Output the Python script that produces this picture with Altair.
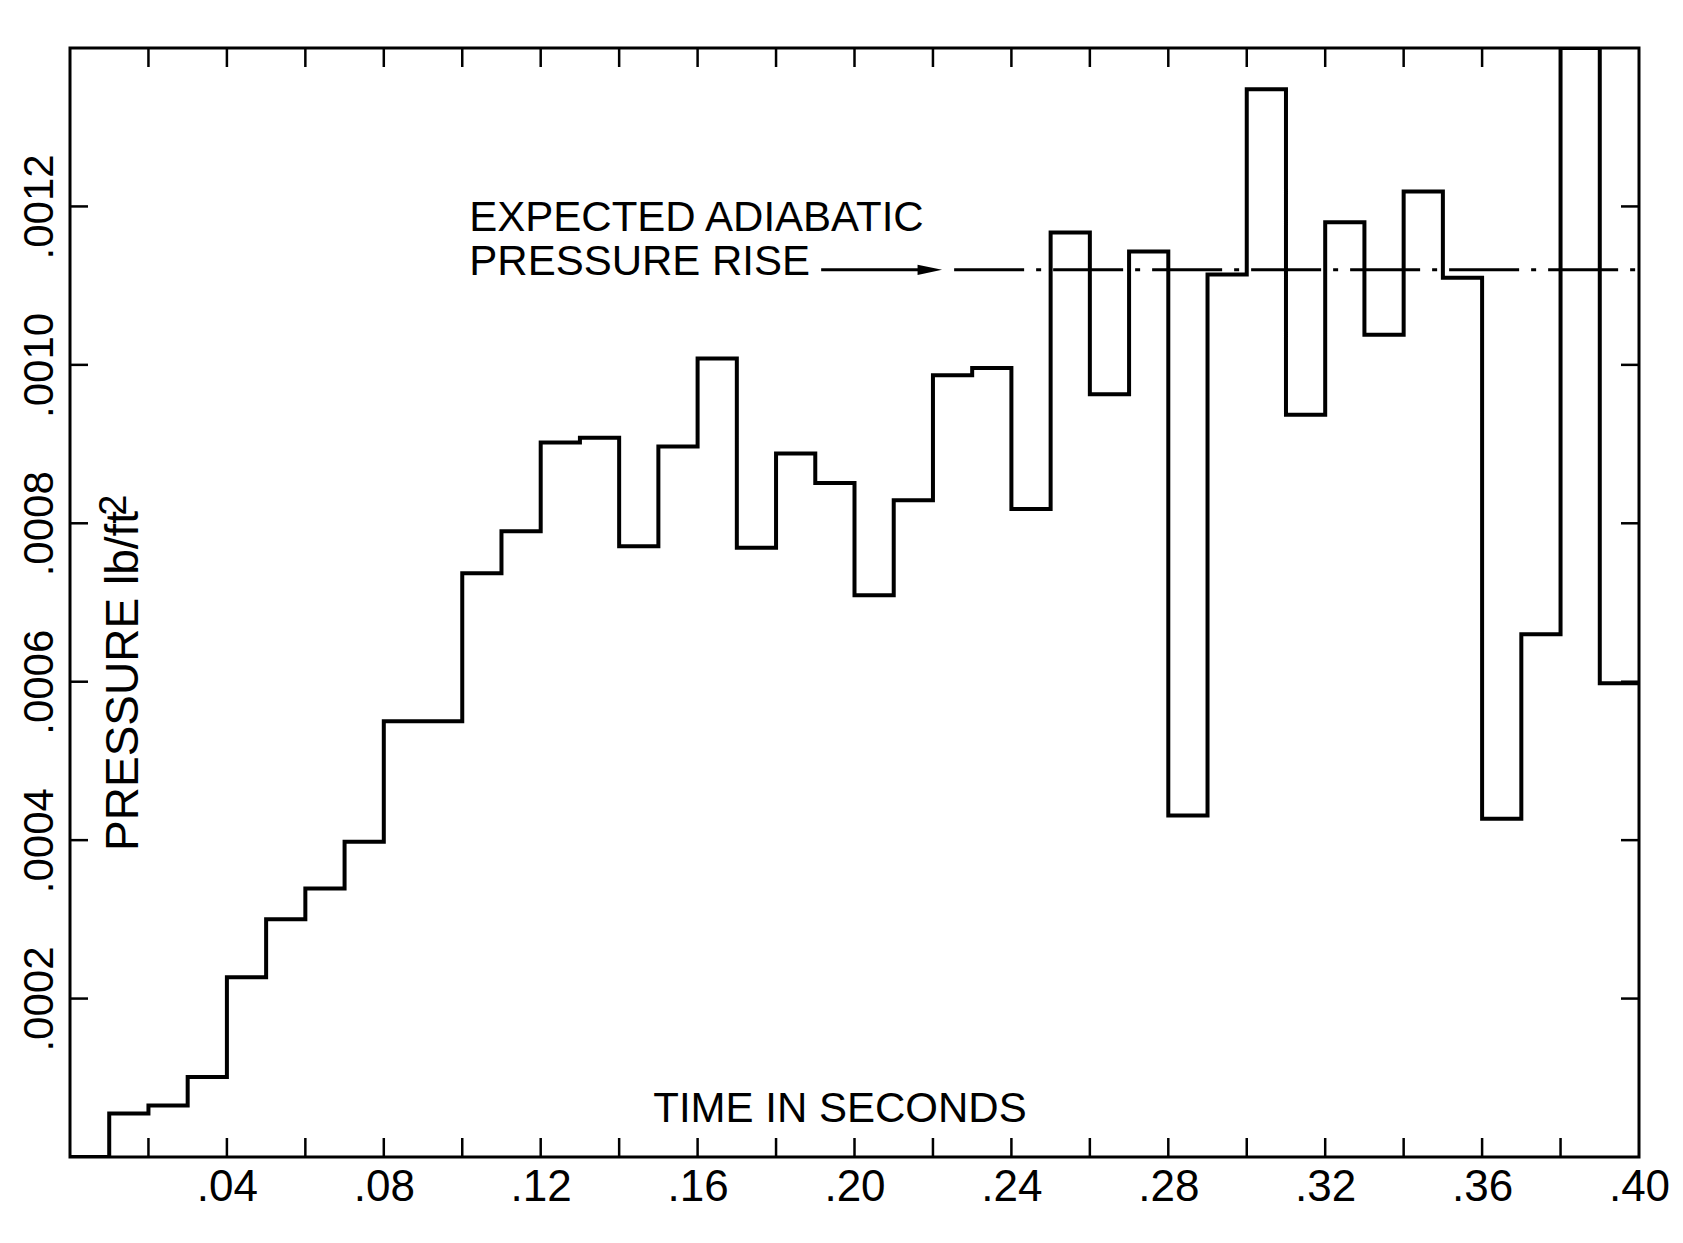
import altair as alt
import pandas as pd

# ---- data (bin start time in s, pressure in lb/ft^2) ----
time_s = [0.00, 0.01, 0.02, 0.03, 0.04, 0.05, 0.06, 0.07, 0.08, 0.09,
          0.10, 0.11, 0.12, 0.13, 0.14, 0.15, 0.16, 0.17, 0.18, 0.19,
          0.20, 0.21, 0.22, 0.23, 0.24, 0.25, 0.26, 0.27, 0.28, 0.29,
          0.30, 0.31, 0.32, 0.33, 0.34, 0.35, 0.36, 0.37, 0.38, 0.39, 0.40]
pressure = [0.0, 0.000055, 0.000065, 0.000101, 0.000227, 0.000300, 0.000339, 0.000398, 0.000550, 0.000550,
            0.000737, 0.000790, 0.000902, 0.000908, 0.000771, 0.000897, 0.001008, 0.000769, 0.000888, 0.000851,
            0.000709, 0.000829, 0.000987, 0.000996, 0.000818, 0.001167, 0.000963, 0.001143, 0.000431, 0.001114,
            0.001348, 0.000937, 0.001180, 0.001038, 0.001219, 0.001110, 0.000427, 0.000660, 0.001400, 0.000598,
            0.000598]

x_label_values = [0.04, 0.08, 0.12, 0.16, 0.20, 0.24, 0.28, 0.32, 0.36, 0.40]
x_tick_values = [0.02, 0.04, 0.06, 0.08, 0.10, 0.12, 0.14, 0.16, 0.18, 0.20,
                 0.22, 0.24, 0.26, 0.28, 0.30, 0.32, 0.34, 0.36, 0.38]
y_tick_values = [0.0002, 0.0004, 0.0006, 0.0008, 0.0010, 0.0012]

expected_level = [0.00112]
arrow_span = [0.1915, 0.2195]
arrow_head_t = [0.2192]
dash_span = [0.2254, 0.40]

# ---- layout / style ----
W, H = 1569, 1109
FONT = "Liberation Sans"
INK = "black"

xscale = alt.Scale(domain=[0, 0.40], nice=False, zero=False)
yscale = alt.Scale(domain=[0, 0.0014], nice=False, zero=False)

xaxis = alt.Axis(values=x_label_values,
                 labelExpr="substring(format(datum.value, '.2f'), 1)",
                 ticks=False, domain=False, grid=False, title=None,
                 labelFont=FONT, labelFontSize=44, labelColor=INK,
                 labelPadding=8, labelFlush=False, labelOverlap=False)
yaxis = alt.Axis(values=y_tick_values,
                 labelExpr="substring(format(datum.value, '.4f'), 1)",
                 ticks=False, domain=False, grid=False, title=None,
                 labelAngle=270, labelAlign="center", labelBaseline="bottom",
                 labelFont=FONT, labelFontSize=42, labelColor=INK,
                 labelPadding=9, labelFlush=False, labelOverlap=False)


def X(field):
    return alt.X(field, type="quantitative", scale=xscale, axis=xaxis, title=None)


def Y(field):
    return alt.Y(field, type="quantitative", scale=yscale, axis=yaxis, title=None)


df = pd.DataFrame({"t": time_s, "p": pressure})

steps = alt.Chart(df).mark_line(
    interpolate="step-after", color=INK, strokeWidth=4,
    strokeJoin="miter", clip=True
).encode(x=X("t"), y=Y("p"))

# inward ticks on all four sides
xt = pd.DataFrame({"t": x_tick_values})
yt = pd.DataFrame({"p": y_tick_values})
bottom_ticks = alt.Chart(xt).mark_rule(color=INK, strokeWidth=2.5).encode(
    x=X("t"), y=alt.value(H), y2=alt.value(H - 19))
top_ticks = alt.Chart(xt).mark_rule(color=INK, strokeWidth=2.5).encode(
    x=X("t"), y=alt.value(0), y2=alt.value(19))
left_ticks = alt.Chart(yt).mark_rule(color=INK, strokeWidth=2.5).encode(
    y=Y("p"), x=alt.value(0), x2=alt.value(18))
right_ticks = alt.Chart(yt).mark_rule(color=INK, strokeWidth=2.5).encode(
    y=Y("p"), x=alt.value(W), x2=alt.value(W - 18))

# expected adiabatic pressure rise: arrow + dash-dot line
arrow_df = pd.DataFrame({"t": [arrow_span[0]], "t2": [arrow_span[1]], "p": expected_level})
arrow = alt.Chart(arrow_df).mark_rule(color=INK, strokeWidth=3).encode(
    x=X("t"), x2="t2:Q", y=Y("p"))
head_df = pd.DataFrame({"t": arrow_head_t, "p": expected_level})
head = alt.Chart(head_df).mark_point(
    shape="M-1,-0.42L1,0L-1,0.42Z", size=600, filled=True, color=INK, opacity=1, strokeWidth=0
).encode(x=X("t"), y=Y("p"))
dash_df = pd.DataFrame({"t": [dash_span[0]], "t2": [dash_span[1]], "p": expected_level})
dash = alt.Chart(dash_df).mark_rule(color=INK, strokeWidth=3, strokeDash=[70, 12, 5, 12]).encode(
    x=X("t"), x2="t2:Q", y=Y("p"))

# annotations
note_df = pd.DataFrame({"t": [0.1018, 0.1018], "p": [0.001185, 0.00113],
                        "s": ["EXPECTED ADIABATIC", "PRESSURE RISE"]})
note = alt.Chart(note_df).mark_text(
    align="left", baseline="middle", font=FONT, fontSize=42, color=INK
).encode(x=X("t"), y=Y("p"), text="s:N")

xtitle_df = pd.DataFrame({"t": [0.1963], "p": [0.0000603], "s": ["TIME IN SECONDS"]})
xtitle = alt.Chart(xtitle_df).mark_text(
    align="center", baseline="middle", font=FONT, fontSize=42, color=INK
).encode(x=X("t"), y=Y("p"), text="s:N")

ytitle_df = pd.DataFrame({"t": [0.0138], "p": [0.000601], "s": ["PRESSURE lb/ft"]})
ytitle = alt.Chart(ytitle_df).mark_text(
    angle=270, align="center", baseline="middle", font=FONT, fontSize=46, color=INK
).encode(x=X("t"), y=Y("p"), text="s:N")
ysup_df = pd.DataFrame({"t": [0.0114], "p": [0.000823], "s": ["2"]})
ysup = alt.Chart(ysup_df).mark_text(
    angle=270, align="center", baseline="middle", font=FONT, fontSize=38, color=INK
).encode(x=X("t"), y=Y("p"), text="s:N")

chart = alt.layer(
    steps, bottom_ticks, top_ticks, left_ticks, right_ticks,
    arrow, head, dash, note, xtitle, ytitle, ysup
).properties(
    width=W, height=H,
    padding={"left": 62, "top": 40, "right": 36, "bottom": 60},
    autosize=alt.AutoSizeParams(type="none"),
    background="white",
).configure_view(stroke=INK, strokeWidth=3)

chart.save("out.html", embed_options={"renderer": "svg", "actions": False})
